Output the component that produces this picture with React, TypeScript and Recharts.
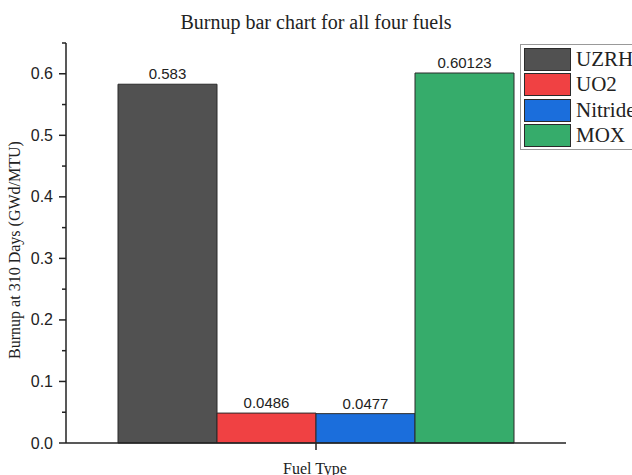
import React from 'react'
import { BarChart, Bar, XAxis, YAxis, LabelList } from 'recharts'

const fuels = ['UZRH', 'UO2', 'Nitride', 'MOX']
const burnup = [0.583, 0.0486, 0.0477, 0.60123]
const colors = ['#515151', '#F04143', '#1B6EDC', '#36AC6B']
const yTicks = [0, 0.05, 0.1, 0.15, 0.2, 0.25, 0.3, 0.35, 0.4, 0.45, 0.5, 0.55, 0.6, 0.65]

const row: Record<string, string | number> = { name: 'Fuel Type' }
fuels.forEach((f, i) => {
  row[f] = burnup[i]
})
const data = [row]

const serif = '"Liberation Serif", "Times New Roman", serif'
const sans = '"Liberation Sans", Arial, sans-serif'

const YTick = (props: any) => {
  const { x, y, payload, index } = props
  const major = index % 2 === 0
  return (
    <g>
      <line x1={x - (major ? 7 : 4)} x2={x} y1={y} y2={y} stroke="#222" strokeWidth={1.5} />
      {major && (
        <text x={x - 13} y={y} textAnchor="end" dominantBaseline="central" fontFamily={sans} fontSize={16} fill="#222">
          {Number(payload.value).toFixed(1)}
        </text>
      )}
    </g>
  )
}

export default function App() {
  return (
    <div style={{ position: 'absolute', left: 0, top: 0, width: 632, height: 475, background: '#fff', overflow: 'hidden' }}>
      <div style={{ position: 'absolute', left: 0, width: 632, top: 11, textAlign: 'center', fontFamily: serif, fontSize: 20, color: '#222' }}>
        Burnup bar chart for all four fuels
      </div>
      <BarChart width={632} height={475} data={data} margin={{ top: 43, right: 66, bottom: 2, left: 0 }} barGap={0} barSize={99}>
        <XAxis
          dataKey="name"
          height={30}
          tickSize={7}
          tickFormatter={() => ''}
          axisLine={{ stroke: '#222', strokeWidth: 1.5 }}
          tickLine={{ stroke: '#222', strokeWidth: 1.5 }}
        />
        <YAxis
          width={66}
          domain={[0, 0.65]}
          ticks={yTicks}
          interval={0}
          tickSize={0}
          tickMargin={0}
          tickLine={false}
          tick={<YTick />}
          axisLine={{ stroke: '#222', strokeWidth: 1.5 }}
        />
        {fuels.map((f, i) => (
          <Bar key={f} dataKey={f} fill={colors[i]} stroke="#2a2a2a" strokeWidth={1} isAnimationActive={false}>
            <LabelList dataKey={f} position="top" offset={5} fontFamily={sans} fontSize={15} fill="#222" />
          </Bar>
        ))}
      </BarChart>
      <div
        style={{
          position: 'absolute',
          left: 15,
          top: 250,
          transform: 'translate(-50%, -50%) rotate(-90deg)',
          whiteSpace: 'nowrap',
          fontFamily: serif,
          fontSize: 16,
          color: '#222',
        }}
      >
        Burnup at 310 Days (GWd/MTU)
      </div>
      <div style={{ position: 'absolute', left: 215, width: 200, top: 460, textAlign: 'center', fontFamily: serif, fontSize: 16, color: '#222' }}>
        Fuel Type
      </div>
      <div
        style={{
          position: 'absolute',
          left: 520,
          top: 44,
          width: 130,
          height: 104,
          border: '1px solid #999',
          fontFamily: serif,
          fontSize: 21,
          color: '#222',
        }}
      >
        {fuels.map((f, i) => (
          <div key={f} style={{ position: 'absolute', left: 3, top: 3 + i * 25.3, height: 23, display: 'flex', alignItems: 'center' }}>
            <div style={{ width: 45, height: 21, background: colors[i], border: '1px solid #2a2a2a' }} />
            <span style={{ marginLeft: 5, lineHeight: '23px' }}>{f}</span>
          </div>
        ))}
      </div>
    </div>
  )
}
